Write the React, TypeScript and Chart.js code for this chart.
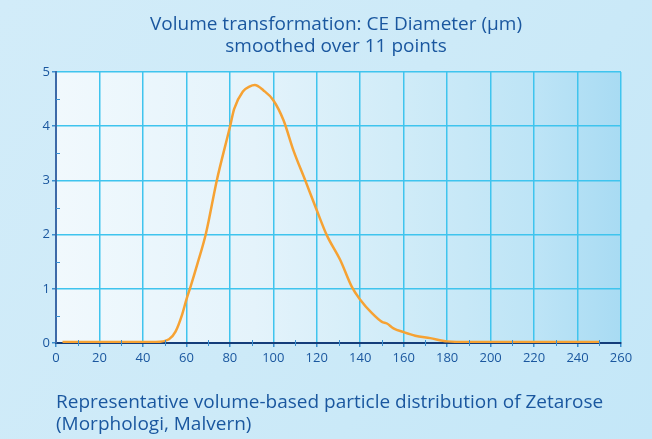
import React, { useEffect, useRef } from "react";
import { Chart, registerables } from "chart.js";

Chart.register(...registerables);

const titleLines = ["Volume transformation: CE Diameter (µm)", "smoothed over 11 points"];
const captionLines = ["Representative volume-based particle distribution of Zetarose", "(Morphologi, Malvern)"];

const diameter = [3, 10, 20, 30, 40, 46, 52, 55, 58, 60, 62, 65, 69, 74, 80, 82, 86, 89, 91.5, 95.5, 100, 104.7, 109.3, 114.7, 120, 124.6, 130.8, 136.2, 140, 145.4, 150, 152.3, 155.3, 160, 165.3, 172.2, 180, 190, 200, 220, 240, 250];
const volume = [0.02, 0.02, 0.02, 0.02, 0.02, 0.02, 0.07, 0.21, 0.52, 0.8, 1.05, 1.45, 2.02, 3.0, 3.98, 4.32, 4.64, 4.73, 4.76, 4.66, 4.48, 4.11, 3.55, 3.0, 2.45, 1.99, 1.53, 1.03, 0.8, 0.55, 0.39, 0.36, 0.27, 0.2, 0.135, 0.09, 0.03, 0.02, 0.02, 0.02, 0.02, 0.02];

const xTicks = [0, 20, 40, 60, 80, 100, 120, 140, 160, 180, 200, 220, 240, 260];
const yTicks = [0, 1, 2, 3, 4, 5];

const FONT = "'Open Sans', 'Noto Sans', sans-serif";
const TEXT = "#1a579f";

const decor = {
  id: "decor",
  beforeDraw(chart: any) {
    const { ctx, width, height, chartArea: a } = chart;
    ctx.save();
    const g = ctx.createLinearGradient(0, 0, width, height);
    g.addColorStop(0, "#d2ecf9");
    g.addColorStop(0.5, "#cdeaf8");
    g.addColorStop(1, "#c4e7f8");
    ctx.fillStyle = g;
    ctx.fillRect(0, 0, width, height);
    const p = ctx.createLinearGradient(a.left, 0, a.right, 0);
    p.addColorStop(0, "#f1f9fd");
    p.addColorStop(0.35, "#e4f3fb");
    p.addColorStop(0.6, "#d1ecf8");
    p.addColorStop(0.85, "#bde4f6");
    p.addColorStop(1, "#a8dbf3");
    ctx.fillStyle = p;
    ctx.fillRect(a.left, a.top, a.right - a.left, a.bottom - a.top);
    ctx.restore();
  },
  afterDraw(chart: any) {
    const { ctx, chartArea: a, scales } = chart;
    ctx.save();
    ctx.fillStyle = TEXT;
    ctx.textAlign = "center";
    ctx.textBaseline = "alphabetic";
    ctx.font = `19px ${FONT}`;
    ctx.fillText(titleLines[0], 336, 30);
    ctx.fillText(titleLines[1], 336, 52);
    ctx.textAlign = "left";
    ctx.fillText(captionLines[0], 56, 408);
    ctx.fillText(captionLines[1], 56, 430);
    // minor ticks
    ctx.strokeStyle = "#3a8fd0";
    ctx.lineWidth = 1;
    const xs = scales.x, ys = scales.y;
    for (let v = 10; v < 260; v += 20) {
      const px = Math.round(xs.getPixelForValue(v)) + 0.5;
      ctx.beginPath();
      ctx.moveTo(px, a.bottom - 3);
      ctx.lineTo(px, a.bottom + 3);
      ctx.stroke();
    }
    for (let v = 0.5; v < 5; v += 1) {
      const py = Math.round(ys.getPixelForValue(v)) + 0.5;
      ctx.beginPath();
      ctx.moveTo(a.left, py);
      ctx.lineTo(a.left + 4, py);
      ctx.stroke();
    }
    ctx.restore();
  },
};

export default function App() {
  const ref = useRef<HTMLCanvasElement>(null);
  useEffect(() => {
    document.body.style.margin = "0";
    const chart = new Chart(ref.current!, {
      type: "line",
      data: {
        datasets: [
          {
            data: diameter.map((d, i) => ({ x: d, y: volume[i] })),
            borderColor: "#f6a233",
            borderWidth: 2.5,
            pointRadius: 0,
            cubicInterpolationMode: "monotone",
            fill: false,
          },
        ],
      },
      options: {
        animation: false,
        responsive: false,
        layout: { padding: { left: 0, top: 72, right: 31, bottom: 0 } },
        plugins: { legend: { display: false }, tooltip: { enabled: false } },
        scales: {
          x: {
            type: "linear",
            min: 0,
            max: 260,
            afterBuildTicks: (s: any) => { s.ticks = xTicks.map((v) => ({ value: v })); },
            afterFit: (s: any) => { s.height = 96; },
            grid: { color: "#3fc4ee", lineWidth: 1.5, tickLength: 4, drawTicks: true, tickColor: "#3a8fd0" },
            border: { color: "#143d7a", width: 2 },
            ticks: { color: TEXT, font: { family: FONT, size: 13 }, padding: 3, maxRotation: 0 },
          },
          y: {
            min: 0,
            max: 5,
            afterBuildTicks: (s: any) => { s.ticks = yTicks.map((v) => ({ value: v })); },
            afterFit: (s: any) => { s.width = 56; },
            grid: { color: "#3fc4ee", lineWidth: 1.5, tickLength: 4, tickColor: "#3a8fd0" },
            border: { color: "#3d6aa8", width: 2 },
            ticks: { color: TEXT, font: { family: FONT, size: 13 }, padding: 2 },
          },
        },
      },
      plugins: [decor],
    });
    return () => chart.destroy();
  }, []);
  return (
    <div style={{ width: 652, height: 439 }}>
      <canvas ref={ref} width={652} height={439} style={{ display: "block" }} />
    </div>
  );
}
